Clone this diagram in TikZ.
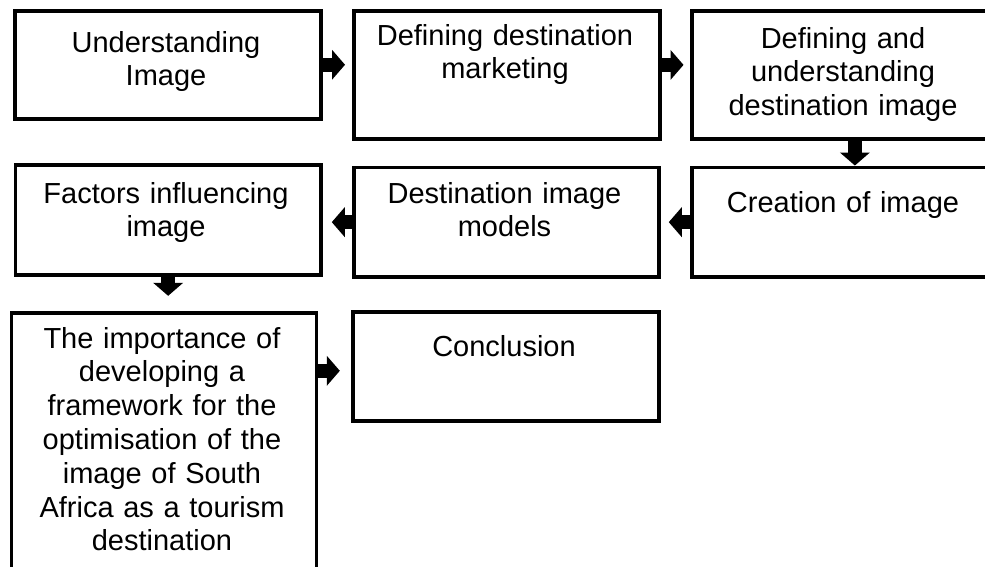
\documentclass[tikz,border=0pt]{standalone}
\usepackage{fontspec}
\setmainfont{Liberation Sans}
\usetikzlibrary{arrows.meta,calc}
\begin{document}
\begin{tikzpicture}[x=1pt,y=-1pt,
  box/.style={draw=black,line width=3.8pt,rectangle,inner sep=0pt,anchor=north west},
  txt/.style={font=\fontsize{29}{33.8}\selectfont,align=center,text width=300pt,inner sep=0pt,anchor=base},
  barrow/.style={line width=14pt,-{Triangle[width=30pt,length=13pt,line width=0pt]}}]
\useasboundingbox (0,0) rectangle (985,566);
\clip (0,0) rectangle (985,566);

% boxes (top-left corner, size)
\node[box,minimum width=306pt,minimum height=108.3pt] (b1) at (13,8.7) {};
\node[box,minimum width=306pt,minimum height=128pt]   (b2) at (352,9) {};
\node[box,minimum width=306pt,minimum height=128pt]   (b3) at (690,9) {};
\node[box,minimum width=305.5pt,minimum height=110pt] (b4) at (13.5,163) {};
\node[box,minimum width=305pt,minimum height=109.5pt] (b5) at (352,165.5) {};
\node[box,minimum width=306pt,minimum height=109.5pt] (b6) at (690,165.5) {};
\node[box,minimum width=305pt,minimum height=280pt]   (b7) at (9.5,311.3) {};
\node[box,minimum width=305.7pt,minimum height=109pt] (b8) at (351.3,309.7) {};

% box texts
\node[txt] (t1) at (166,52) {Understanding\\Image};
\node[txt] (t2) at (505,45) {Defining destination\\marketing};
\node[txt] (t3) at (843,48) {Defining and\\understanding\\destination image};
\node[txt] (t4) at (166,203) {Factors influencing\\image};
\node[txt] (t5) at (504.5,203) {Destination image\\models};
\node[txt] (t6) at (843,212) {Creation of image};
\node[txt] (t7) at (162,348) {The importance of\\developing a\\framework for the\\optimisation of the\\image of South\\Africa as a tourism\\destination};
\node[txt] (t8) at (504,356) {Conclusion};

% block arrows between the boxes
\draw[barrow] (b1.east) -- ($(b2.west |- b1.east)+(-7,0)$);
\coordinate (a2s) at ($(b2.east)+(0,-10)$);
\draw[barrow] (a2s) -- ($(a2s -| b3.west)+(-6.5,0)$);
\coordinate (a3s) at ($(b3.south)+(10,0)$);
\draw[barrow] (a3s) -- (a3s |- b6.north);
\draw[barrow] (b6.west) -- ($(b6.west -| b5.east)+(8,0)$);
\draw[barrow] (b5.west) -- ($(b5.west -| b4.east)+(9,0)$);
\draw[barrow] (b4.south) -- ($(b4.south |- b7.north)+(0,-15.5)$);
\coordinate (a7s) at ($(b7.north east)+(0,59.5)$);
\draw[barrow] (a7s) -- ($(a7s -| b8.west)+(-11.5,0)$);
\end{tikzpicture}
\end{document}
